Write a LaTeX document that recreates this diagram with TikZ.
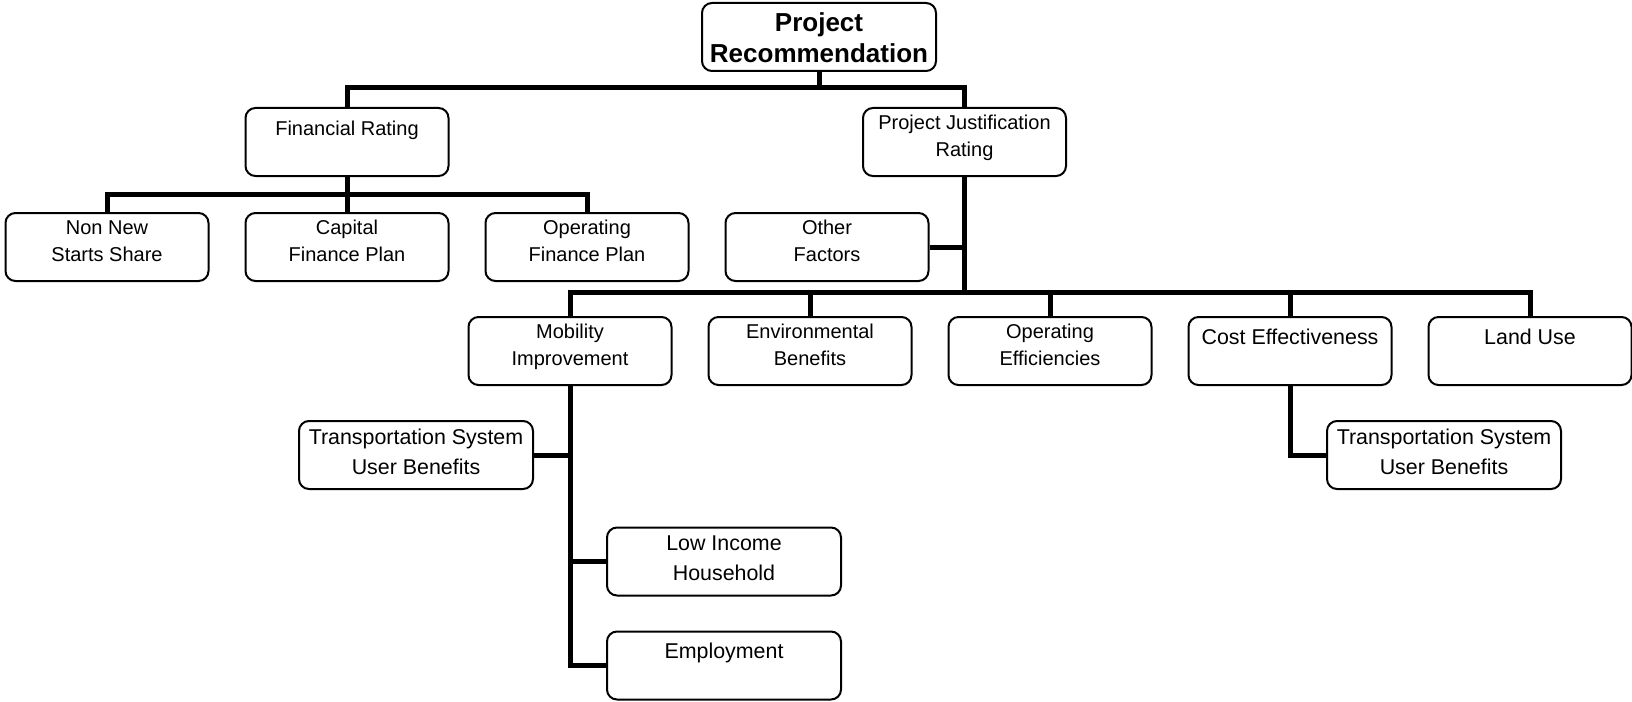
\documentclass[tikz,border=0pt]{standalone}
\usepackage{fontspec}
\setmainfont{Liberation Sans}
\newcommand{\twoline}[2]{\begin{tabular}[t]{@{}c@{}}#1\\#2\end{tabular}}
\tikzset{
  box/.style={draw, rounded corners=5pt, line width=1pt, inner sep=0pt,
    minimum width=101.5pt, text height=10.5pt, text depth=23.5pt,
    font=\fontsize{10}{13.8}\selectfont},
  single/.style={text height=13.5pt, text depth=20.5pt},
  big/.style={font=\fontsize{10.7}{15}\selectfont, text height=11.5pt, text depth=22.5pt},
  wide/.style={minimum width=117pt},
  link/.style={line width=2.5pt}
}

\begin{document}
\begin{tikzpicture}[x=0.5pt,y=-0.5pt]
		\useasboundingbox (0,0) rectangle (1632,701);
		% boxes
		\node[box, wide, font=\bfseries\fontsize{13}{15.5}\selectfont, text height=14.5pt, text depth=19.5pt] (rec) at (819,37) {\twoline{Project}{Recommendation}};
		\node[box, single] (fin) at (347,142) {Financial Rating};
		\node[box] (pj) at (964.5,142) {\twoline{Project Justification}{Rating}};
		\node[box] (nonnew) at (107,247) {\twoline{Non New}{Starts Share}};
		\node[box] (capfin) at (347,247) {\twoline{Capital}{Finance Plan}};
		\node[box] (opfin) at (587,247) {\twoline{Operating}{Finance Plan}};
		\node[box] (other) at (827,247) {\twoline{Other}{Factors}};
		\node[box] (mob) at (570,351) {\twoline{Mobility}{Improvement}};
		\node[box] (env) at (810,351) {\twoline{Environmental}{Benefits}};
		\node[box] (opeff) at (1050,351) {\twoline{Operating}{Efficiencies}};
		\node[box, big, single] (cost) at (1290,351) {Cost Effectiveness};
		\node[box, big, single] (land) at (1530,351) {Land Use};
		\node[box, big, wide] (tsuba) at (416,455) {\twoline{Transportation System}{User Benefits}};
		\node[box, big, wide] (low) at (724,561.5) {\twoline{Low Income}{Household}};
		\node[box, big, wide, single] (emp) at (724,665.5) {Employment};
		\node[box, big, wide] (tsubb) at (1444,455) {\twoline{Transportation System}{User Benefits}};
		% connectors
		\coordinate (b1) at (819,88);
		\coordinate (b2) at (347,194);
		\coordinate (b3) at (964.5,292);
		\draw[link] (rec.south) -- (b1);
		\draw[link] (fin.north) |- (b1) -| (pj.north);
		\draw[link] (fin.south) -- (capfin.north);
		\draw[link] (nonnew.north) |- (b2) -| (opfin.north);
		\draw[link] (pj.south) -- (b3);
		\draw[link] (other.east) -- (other.east -| b3);
		\draw[link] (mob.north) |- (b3) -| (land.north);
		\foreach \n in {env,opeff,cost}
			\draw[link] (\n.north) -- (\n.north |- b3);
		\draw[link] (mob.south) |- (emp.west);
		\draw[link] (tsuba.east) -- (tsuba.east -| mob.south);
		\draw[link] (low.west) -- (low.west -| mob.south);
		\draw[link] (cost.south) |- (tsubb.west);
\end{tikzpicture}
\end{document}
